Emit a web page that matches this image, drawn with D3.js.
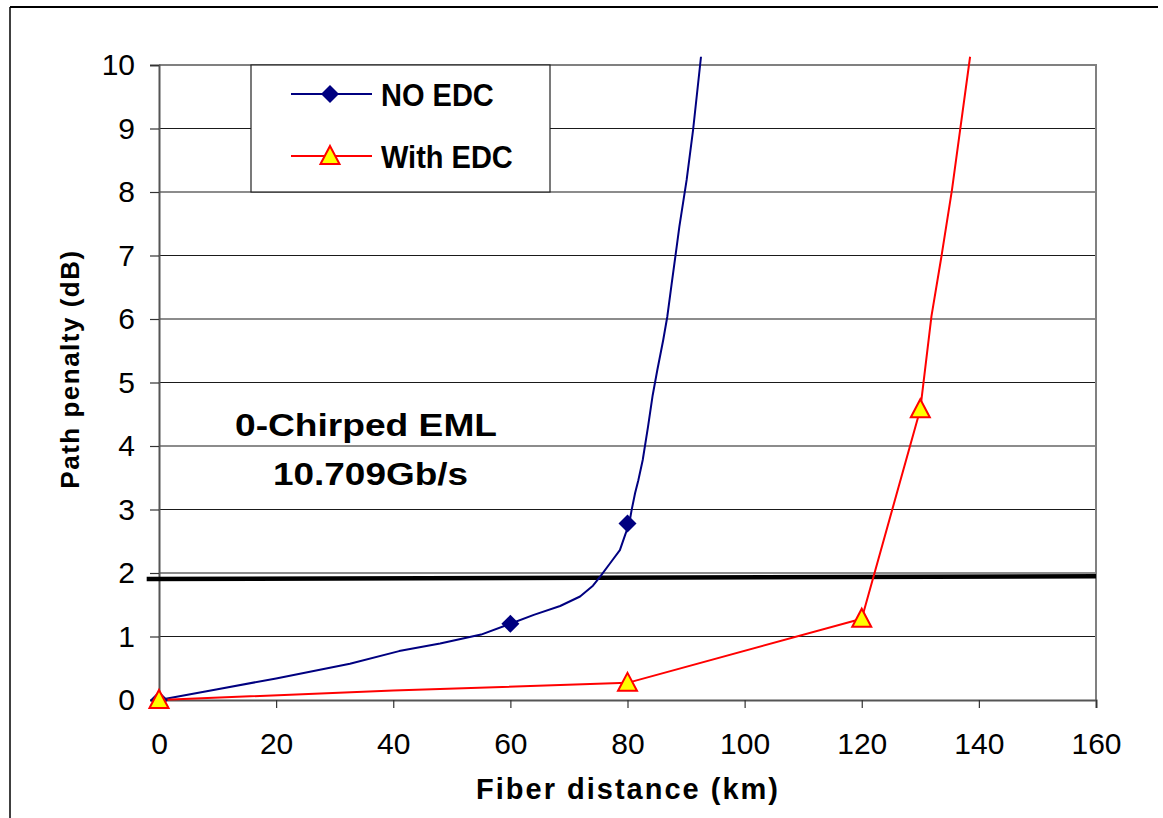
<!DOCTYPE html>
<html>
<head>
    <meta charset="UTF-8">
    <title>Path penalty vs fiber distance</title>
    <script src="https://d3js.org/d3.v7.min.js"></script>
    <style>
        body { margin: 0; background: #fff; }
        text { font-family: "Liberation Sans", Arial, sans-serif; }
    </style>
</head>
<body>
    <div id="chart"></div>

    <script>
        // Data
        var xTicks = [0, 20, 40, 60, 80, 100, 120, 140, 160];
        var yTicks = [0, 1, 2, 3, 4, 5, 6, 7, 8, 9, 10];

        // NO EDC: line vertices and marker points
        var noEdcLine = [
            [0, 0], [10, 0.17], [20, 0.34], [32.6, 0.57], [41, 0.77], [48, 0.89], [55, 1.03],
            [60, 1.2], [64, 1.34], [68.5, 1.48], [71.9, 1.63], [74.1, 1.8], [75.3, 1.94],
            [77, 2.15], [78.7, 2.36], [79.6, 2.6], [80.3, 2.78], [80.7, 2.99], [81.3, 3.26],
            [81.85, 3.46], [82.6, 3.78], [83.5, 4.3], [84.3, 4.8], [85.1, 5.2], [86.1, 5.67],
            [86.8, 6.04], [87.55, 6.56], [88.4, 7.14], [88.85, 7.45], [90.1, 8.19],
            [91.2, 8.98], [92.55, 10.13]
        ];
        var noEdcMarkers = [[0, 0], [60, 1.2], [80, 2.78]];

        // With EDC
        var withEdcLine = [
            [0, 0], [40, 0.15], [80, 0.27], [120, 1.28], [130, 4.58],
            [131.9, 6.04], [133.6, 6.98], [135.4, 8.03], [136.8, 8.98], [138.5, 10.13]
        ];
        var withEdcMarkers = [[0, 0], [80, 0.27], [120, 1.28], [130, 4.58]];

        // 2 dB threshold line
        var thresholdLine = [[-2.1, 1.905], [160, 1.95]];

        var legendLabels = ["NO EDC", "With EDC"];
        var noteLines = ["0-Chirped EML", "10.709Gb/s"];

        var W = 1163, H = 818;
        var plot = {left: 159, right: 1096, top: 65, bottom: 700};

        var svg = d3.select("#chart").append("svg")
            .attr("width", W)
            .attr("height", H);

        // outer frame (only top and left edges are visible)
        svg.append("line").attr("x1", 10).attr("y1", 7).attr("x2", 1158).attr("y2", 7)
            .attr("stroke", "#000").attr("stroke-width", 2);
        svg.append("line").attr("x1", 10).attr("y1", 7).attr("x2", 10).attr("y2", H)
            .attr("stroke", "#000").attr("stroke-width", 1.5);

        var x = d3.scaleLinear().domain([0, 160]).range([plot.left, plot.right]);
        var y = d3.scaleLinear().domain([0, 10]).range([plot.bottom, plot.top]);

        // gridlines
        svg.append("g")
            .selectAll("line")
            .data(yTicks.filter(function (d) { return d > 0 && d < 10; }))
            .enter().append("line")
            .attr("x1", plot.left).attr("x2", plot.right)
            .attr("y1", function (d) { return y(d); })
            .attr("y2", function (d) { return y(d); })
            .attr("stroke", "#1a1a1a")
            .attr("stroke-width", 1.2);

        // plot border (top and right)
        svg.append("path")
            .attr("d", "M" + plot.left + "," + plot.top + "H" + plot.right + "V" + plot.bottom)
            .attr("fill", "none")
            .attr("stroke", "#808080")
            .attr("stroke-width", 2);

        // axes
        var yAxis = svg.append("g")
            .attr("transform", "translate(" + plot.left + ",0)")
            .call(d3.axisLeft(y).tickValues(yTicks).tickSize(9).tickPadding(15).tickFormat(d3.format("d")));
        var xAxis = svg.append("g")
            .attr("transform", "translate(0," + plot.bottom + ")")
            .call(d3.axisBottom(x).tickValues(xTicks).tickSize(8).tickPadding(25).tickFormat(d3.format("d")));

        [yAxis, xAxis].forEach(function (a) {
            a.select(".domain").attr("stroke", "#555").attr("stroke-width", 2);
            a.selectAll(".tick line").attr("stroke", "#333").attr("stroke-width", 1.2);
            a.selectAll(".tick text")
                .attr("fill", "#000")
                .style("font-size", "30px")
                .style("font-family", "'Liberation Sans', Arial, sans-serif");
        });

        // axis titles
        svg.append("text")
            .attr("x", (plot.left + plot.right) / 2 + 0.5)
            .attr("y", 799)
            .attr("text-anchor", "middle")
            .style("font-size", "29px")
            .style("font-weight", "bold")
            .style("letter-spacing", "2px")
            .text("Fiber distance (km)");

        svg.append("text")
            .attr("transform", "translate(79,369) rotate(-90)")
            .attr("text-anchor", "middle")
            .style("font-size", "26px")
            .style("font-weight", "bold")
            .style("letter-spacing", "1.5px")
            .text("Path penalty (dB)");

        // threshold line
        var line = d3.line()
            .x(function (d) { return x(d[0]); })
            .y(function (d) { return y(d[1]); });

        svg.append("path")
            .datum(thresholdLine)
            .attr("d", line)
            .attr("fill", "none")
            .attr("stroke", "#000")
            .attr("stroke-width", 4.5);

        // series
        svg.append("path")
            .datum(noEdcLine)
            .attr("d", line)
            .attr("fill", "none")
            .attr("stroke", "#000080")
            .attr("stroke-width", 2)
            .attr("stroke-linejoin", "round");

        svg.append("path")
            .datum(withEdcLine)
            .attr("d", line)
            .attr("fill", "none")
            .attr("stroke", "#ff0000")
            .attr("stroke-width", 2)
            .attr("stroke-linejoin", "round");

        var diamond = "M0,-9L9,0L0,9L-9,0Z";
        var triangle = "M0,-10L9.5,8L-9.5,8Z";

        svg.append("g").selectAll("path")
            .data(noEdcMarkers)
            .enter().append("path")
            .attr("d", diamond)
            .attr("transform", function (d) { return "translate(" + x(d[0]) + "," + y(d[1]) + ")"; })
            .attr("fill", "#000080");

        svg.append("g").selectAll("path")
            .data(withEdcMarkers)
            .enter().append("path")
            .attr("d", triangle)
            .attr("transform", function (d) { return "translate(" + x(d[0]) + "," + y(d[1]) + ")"; })
            .attr("fill", "#ffff00")
            .attr("stroke", "#ff0000")
            .attr("stroke-width", 2);

        // legend
        var legend = svg.append("g");
        legend.append("rect")
            .attr("x", 251).attr("y", 65).attr("width", 299).attr("height", 127)
            .attr("fill", "#fff")
            .attr("stroke", "#222")
            .attr("stroke-width", 1.2);

        var rows = [
            {label: legendLabels[0], color: "#000080", shape: diamond, fill: "#000080", stroke: "none", cy: 94},
            {label: legendLabels[1], color: "#ff0000", shape: triangle, fill: "#ffff00", stroke: "#ff0000", cy: 156}
        ];
        rows.forEach(function (r) {
            legend.append("line")
                .attr("x1", 291).attr("x2", 372).attr("y1", r.cy).attr("y2", r.cy)
                .attr("stroke", r.color).attr("stroke-width", 2);
            legend.append("path")
                .attr("d", r.shape)
                .attr("transform", "translate(330," + r.cy + ")")
                .attr("fill", r.fill)
                .attr("stroke", r.stroke)
                .attr("stroke-width", 2);
            legend.append("text")
                .attr("transform", "translate(381," + (r.cy + 11.5) + ") scale(1,1.08)")
                .style("font-size", "29px")
                .style("font-weight", "bold")
                .text(r.label);
        });

        // annotation
        svg.append("text")
            .attr("x", 235).attr("y", 436)
            .attr("textLength", 262).attr("lengthAdjust", "spacingAndGlyphs")
            .style("font-size", "31px").style("font-weight", "bold")
            .text(noteLines[0]);
        svg.append("text")
            .attr("x", 273).attr("y", 485)
            .attr("textLength", 195).attr("lengthAdjust", "spacingAndGlyphs")
            .style("font-size", "31px").style("font-weight", "bold")
            .text(noteLines[1]);
    </script>
</body>
</html>
